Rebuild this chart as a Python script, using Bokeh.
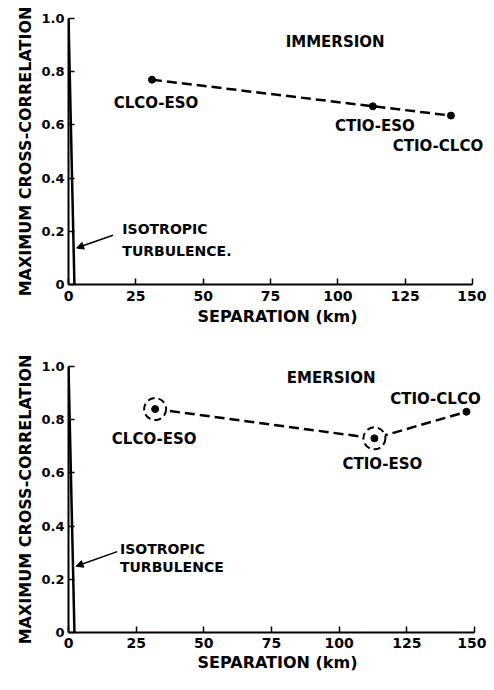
from bokeh.plotting import figure
from bokeh.models import Range1d, FixedTicker, Label, Arrow, NormalHead, PrintfTickFormatter
from bokeh.layouts import column
from bokeh.embed import file_html
from bokeh.resources import INLINE

# ---- data ----
pairs = ["CLCO-ESO", "CTIO-ESO", "CTIO-CLCO"]
imm_sep = [31, 113, 142]
imm_corr = [0.77, 0.67, 0.635]
emr_sep = [32, 113, 147]
emr_corr = [0.84, 0.73, 0.83]
emr_circled = [True, True, False]
iso_sep = [0, 2.2]
iso_corr = [1.0, 0.0]
x_ticks = [0, 25, 50, 75, 100, 125, 150]
y_ticks = [0, 0.2, 0.4, 0.6, 0.8, 1.0]

FONT = "DejaVu Sans"


def make_fig(height, top, bottom, left, xmax, xstand, xlabstand):
    p = figure(width=486, height=height, output_backend="svg", toolbar_location=None,
               x_range=Range1d(0, xmax), y_range=Range1d(0, 1.0),
               min_border_top=top, min_border_bottom=bottom,
               min_border_left=left, min_border_right=0)
    p.outline_line_color = None
    p.xgrid.visible = False
    p.ygrid.visible = False
    for ax in (p.xaxis[0], p.yaxis[0]):
        ax.axis_line_width = 2
        ax.axis_line_color = "black"
        ax.major_tick_in = 6
        ax.major_tick_out = 0
        ax.major_tick_line_width = 1.5
        ax.minor_tick_line_color = None
        ax.major_label_text_font = FONT
        ax.major_label_text_font_style = "bold"
        ax.major_label_text_color = "black"
        ax.axis_label_text_font = FONT
        ax.axis_label_text_font_style = "bold"
        ax.axis_label_text_font_size = "16px"
        ax.axis_label_text_color = "black"
    p.xaxis.major_label_text_font_size = "14px"
    p.yaxis.major_label_text_font_size = "13px"
    p.xaxis.bounds = (0, 150)
    p.xaxis.ticker = FixedTicker(ticks=x_ticks)
    p.yaxis.ticker = FixedTicker(ticks=y_ticks)
    p.yaxis.formatter = PrintfTickFormatter(format="%.1f")
    p.yaxis.major_label_overrides = {0: "0"}
    p.xaxis.axis_label = "SEPARATION (km)"
    p.yaxis.axis_label = "MAXIMUM CROSS-CORRELATION"
    p.xaxis.major_label_standoff = xstand
    p.xaxis.axis_label_standoff = xlabstand
    p.yaxis.major_label_standoff = 4
    p.yaxis.axis_label_standoff = 3
    # isotropic turbulence curve
    p.line(iso_sep, iso_corr, line_color="black", line_width=2.5)
    return p


def txt(p, text, x, y, size="15px", align="center", xo=0, yo=0):
    p.add_layout(Label(x=x, y=y, x_offset=xo, y_offset=yo, text=text,
                       text_font=FONT, text_font_style="bold",
                       text_font_size=size, text_align=align,
                       text_baseline="middle", text_color="black"))


# ---- IMMERSION ----
p1 = make_fig(330, 18, 46, 66, 155.2, 6, 3)
p1.line(imm_sep, imm_corr, line_color="black", line_width=2.5, line_dash="10 5")
p1.scatter(imm_sep, imm_corr, size=7, color="black")
txt(p1, "IMMERSION", 99, 0.91)
imm_offsets = [(4, -23), (2, -20), (-13, -30)]
for name, x, y, (xo, yo) in zip(pairs, imm_sep, imm_corr, imm_offsets):
    txt(p1, name, x, y, xo=xo, yo=yo)
txt(p1, "ISOTROPIC", 20, 0.207, size="14px", align="left")
txt(p1, "TURBULENCE.", 20, 0.125, size="14px", align="left")
p1.add_layout(Arrow(x_start=16.5, y_start=0.185, x_end=3.0, y_end=0.137,
                    line_width=1.5, line_color="black",
                    end=NormalHead(size=7, fill_color="black", line_color="black")))

# ---- EMERSION ----
p2 = make_fig(344, 36, 41, 68, 154.4, 5, 2)
p2.line(emr_sep, emr_corr, line_color="black", line_width=2.5, line_dash="10 5")
cx = [x for x, c in zip(emr_sep, emr_circled) if c]
cy = [y for y, c in zip(emr_corr, emr_circled) if c]
p2.scatter(cx, cy, size=22, fill_color="white", line_color="black",
           line_width=2, line_dash="7 4")
p2.scatter(emr_sep, emr_corr, size=7, color="black")
txt(p2, "EMERSION", 97, 0.955)
emr_offsets = [(-1, -30), (8, -26), (-31, 13)]
for name, x, y, (xo, yo) in zip(pairs, emr_sep, emr_corr, emr_offsets):
    txt(p2, name, x, y, xo=xo, yo=yo)
txt(p2, "ISOTROPIC", 19, 0.315, size="14px", align="left")
txt(p2, "TURBULENCE", 19, 0.245, size="14px", align="left")
p2.add_layout(Arrow(x_start=18, y_start=0.304, x_end=2.8, y_end=0.249,
                    line_width=1.5, line_color="black",
                    end=NormalHead(size=7, fill_color="black", line_color="black")))

layout = column(p1, p2, spacing=0)
open("out.html", "w").write(file_html(layout, INLINE))
